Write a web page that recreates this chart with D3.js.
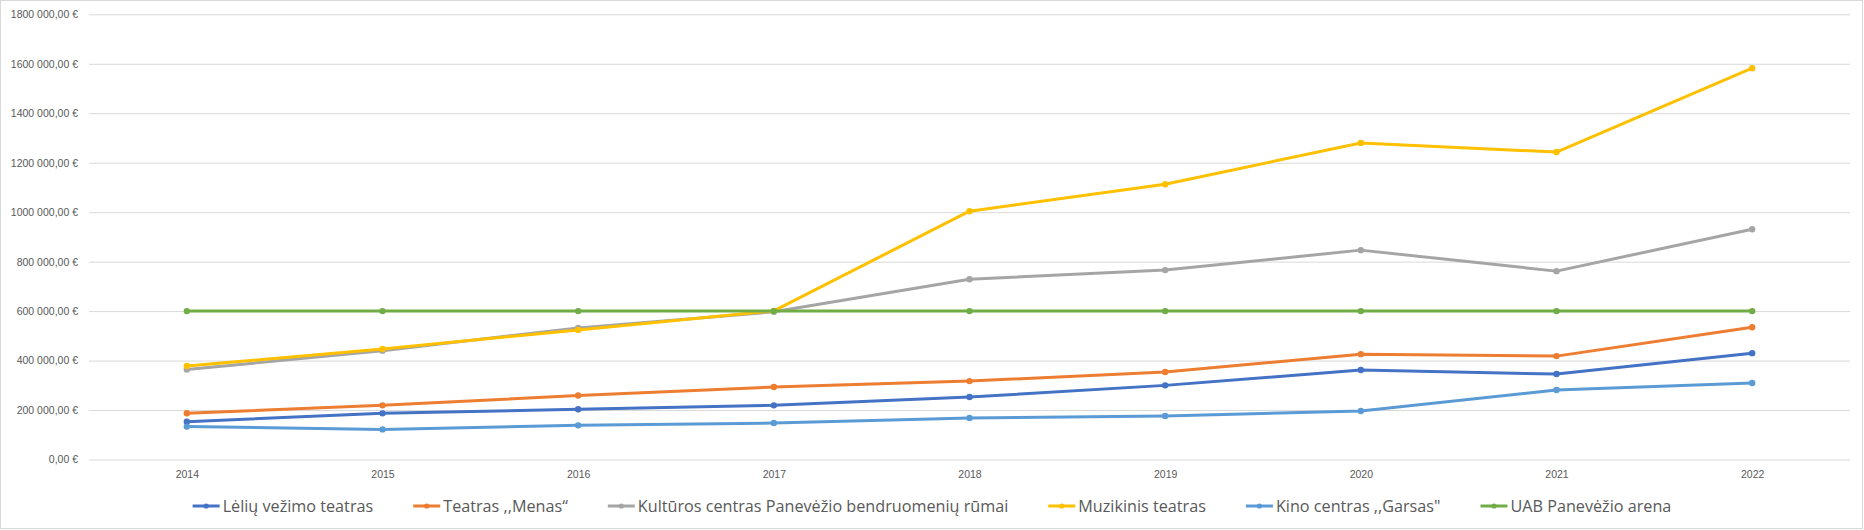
<!DOCTYPE html>
<html>
  <head>
    <meta charset="UTF-8">
    <title>Panevėžio kultūros įstaigos</title>
    <style>
      body { margin: 0; background: #fff; }
      svg { display: block; font-family: 'Open Sans', sans-serif; }
      .tick text { fill: #595959; }
      .grid line { stroke: #d9d9d9; }
    </style>
  </head>
  <body>
    <div id='chart'></div>
    <script src='https://d3js.org/d3.v7.min.js'></script>
    <script>
      // metai (kategorijos)
      const years = ['2014', '2015', '2016', '2017', '2018', '2019', '2020', '2021', '2022'];

      // finansavimas, EUR
      const leliuVezimo = [153000, 186500, 203000, 219000, 252500, 299700, 361600, 345500, 430000];
      const menas = [186700, 219000, 259000, 293000, 317000, 353500, 426000, 418000, 535000];
      const kulturosCentras = [363600, 440000, 532000, 597000, 729000, 765700, 846500, 761600, 931000];
      const muzikinis = [378000, 447000, 524000, 601000, 1004000, 1113000, 1280000, 1243000, 1582000];
      const kinoGarsas = [133000, 121600, 138000, 147500, 167700, 175800, 196000, 280800, 309000];
      const arena = [600000, 600000, 600000, 600000, 600000, 600000, 600000, 600000, 600000];

      const seriesNames = [
        'Lėlių vežimo teatras',
        'Teatras ,,Menas“',
        'Kultūros centras Panevėžio bendruomenių rūmai',
        'Muzikinis teatras',
        'Kino centras ,,Garsas"',
        'UAB Panevėžio arena'
      ];
      const seriesValues = [leliuVezimo, menas, kulturosCentras, muzikinis, kinoGarsas, arena];
      const yTicks = [0, 200000, 400000, 600000, 800000, 1000000, 1200000, 1400000, 1600000, 1800000];

      const colors = ['#4472c4', '#ed7d31', '#a5a5a5', '#ffc000', '#5b9bd5', '#70ad47'];

      const width = 1864;
      const height = 530;
      const plot = { left: 89, right: 1850, top: 14.3, bottom: 459.5 };

      const svg = d3.select('#chart')
        .append('svg')
        .attr('width', width)
        .attr('height', height);

      svg.append('rect')
        .attr('x', 0.5)
        .attr('y', 0.5)
        .attr('width', 1862)
        .attr('height', 528)
        .attr('fill', '#fff')
        .attr('stroke', '#d9d9d9');

      const x = d3.scalePoint()
        .domain(years)
        .range([plot.left, plot.right])
        .padding(0.5);

      const y = d3.scaleLinear()
        .domain([0, 1800000])
        .range([plot.bottom, plot.top]);

      const lt = d3.formatLocale({
        decimal: ',',
        thousands: ' ',
        grouping: [3, 9],
        currency: ['', ' €']
      });
      const money = lt.format('$,.2f');

      svg.append('g')
        .attr('class', 'grid')
        .attr('transform', `translate(${plot.left},0)`)
        .call(d3.axisLeft(y)
          .tickValues(yTicks)
          .tickSize(-(plot.right - plot.left))
          .tickPadding(11)
          .tickFormat(money))
        .call((g) => g.select('.domain').remove())
        .selectAll('text')
        .attr('font-size', 10.5);

      svg.append('g')
        .attr('transform', `translate(0,${plot.bottom})`)
        .call(d3.axisBottom(x)
          .tickSize(0)
          .tickPadding(11))
        .call((g) => g.select('.domain').remove())
        .selectAll('text')
        .attr('font-size', 10.5);

      const line = d3.line()
        .x((d, i) => x(years[i]))
        .y((d) => y(d));

      const series = svg.append('g')
        .selectAll('g')
        .data(seriesValues)
        .enter().append('g');

      series.append('path')
        .attr('d', line)
        .attr('fill', 'none')
        .attr('stroke', (d, i) => colors[i])
        .attr('stroke-width', 3)
        .attr('stroke-linejoin', 'round')
        .attr('stroke-linecap', 'round');

      series.each(function (values, s) {
        d3.select(this).selectAll('circle')
          .data(values)
          .enter().append('circle')
          .attr('cx', (d, i) => x(years[i]))
          .attr('cy', (d) => y(d))
          .attr('r', 3.2)
          .attr('fill', colors[s]);
      });

      // legenda apačioje, centruota
      const legend = svg.append('g')
        .attr('transform', 'translate(0,506)');

      const items = legend.selectAll('g')
        .data(seriesNames)
        .enter().append('g');

      items.append('line')
        .attr('x1', 0)
        .attr('x2', 27)
        .attr('stroke', (d, i) => colors[i])
        .attr('stroke-width', 3);

      items.append('circle')
        .attr('cx', 13.5)
        .attr('r', 2.6)
        .attr('fill', (d, i) => colors[i]);

      items.append('text')
        .attr('x', 30)
        .attr('dy', '0.35em')
        .attr('font-size', 16.2)
        .attr('fill', '#595959')
        .text((d) => d);

      const widths = [];
      items.select('text').each(function () { widths.push(this.getComputedTextLength() + 30); });
      const gap = 40;
      const total = d3.sum(widths) + gap * (widths.length - 1);
      let pos = width / 2 - total / 2;
      items.attr('transform', (d, i) => {
        const t = `translate(${pos},0)`;
        pos += widths[i] + gap;
        return t;
      });
    </script>
  </body>
</html>
